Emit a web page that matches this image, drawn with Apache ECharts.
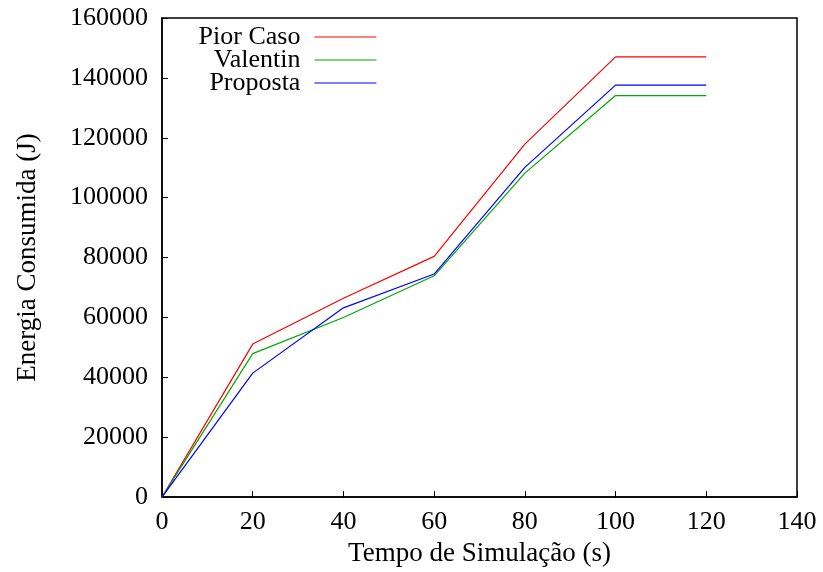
<!DOCTYPE html>
<html>
<head>
<meta charset="utf-8">
<script src="https://cdn.jsdelivr.net/npm/echarts@6/dist/echarts.min.js"></script>
<style>html,body{margin:0;padding:0;background:#fff;}#c{width:823px;height:572px;}</style>
</head>
<body>
<div id="c"></div>
<script>
const times = [0, 20, 40, 60, 80, 100, 120];
const piorCaso = [0, 51100, 66400, 80400, 117900, 147000, 147000];
const valentin = [0, 47900, 60000, 73900, 108200, 134100, 134100];
const proposta = [0, 41400, 63200, 74500, 110100, 137600, 137600];
const seriesNames = ['Pior Caso', 'Valentin', 'Proposta'];
const seriesColors = ['#ff0000', '#00a800', '#0000ff'];

const FONT = 'Liberation Serif';
const chart = echarts.init(document.getElementById('c'), null, {renderer: 'canvas'});
function pairs(vals) { return times.map((t, i) => [t, vals[i]]); }
const allVals = [piorCaso, valentin, proposta];
const legendCenters = [36, 59, 82];
chart.setOption({
  animation: false,
  backgroundColor: '#ffffff',
  grid: {left: 162, right: 26, top: 18, bottom: 74, show: true, borderColor: '#000', borderWidth: 1.5, backgroundColor: 'transparent'},
  legend: seriesNames.map((n, i) => ({
    orient: 'horizontal', right: 446, top: legendCenters[i] - 12, align: 'right', padding: 0,
    itemWidth: 62, itemHeight: 24,
    itemStyle: {opacity: 0},
    lineStyle: {width: 1.2},
    textStyle: {fontFamily: FONT, fontSize: 26, color: '#000', padding: [0, 9, 0, 0]},
    data: [n]
  })),
  xAxis: {
    type: 'value', min: 0, max: 140, interval: 20,
    name: 'Tempo de Simulação (s)', nameLocation: 'middle', nameGap: 42,
    nameTextStyle: {fontFamily: FONT, fontSize: 27, color: '#000'},
    axisLine: {show: true, lineStyle: {color: '#000', width: 1.5}},
    axisTick: {show: true, inside: true, length: 6, lineStyle: {color: '#000', width: 1}},
    axisLabel: {fontFamily: FONT, fontSize: 26, color: '#000', margin: 12},
    splitLine: {show: false}
  },
  yAxis: {
    type: 'value', min: 0, max: 160000, interval: 20000,
    name: 'Energia Consumida (J)', nameLocation: 'middle', nameGap: 121,
    nameTextStyle: {fontFamily: FONT, fontSize: 27, color: '#000'},
    axisLine: {show: true, lineStyle: {color: '#000', width: 1.5}},
    axisTick: {show: true, inside: true, length: 6, lineStyle: {color: '#000', width: 1}},
    axisLabel: {fontFamily: FONT, fontSize: 26, color: '#000', margin: 14, formatter: v => String(v)},
    splitLine: {show: false}
  },
  series: seriesNames.map((n, i) => ({
    name: n, type: 'line', data: pairs(allVals[i]), showSymbol: false, symbol: 'none',
    lineStyle: {color: seriesColors[i], width: 1.2}, itemStyle: {color: seriesColors[i]}
  }))
});
</script>
</body>
</html>
